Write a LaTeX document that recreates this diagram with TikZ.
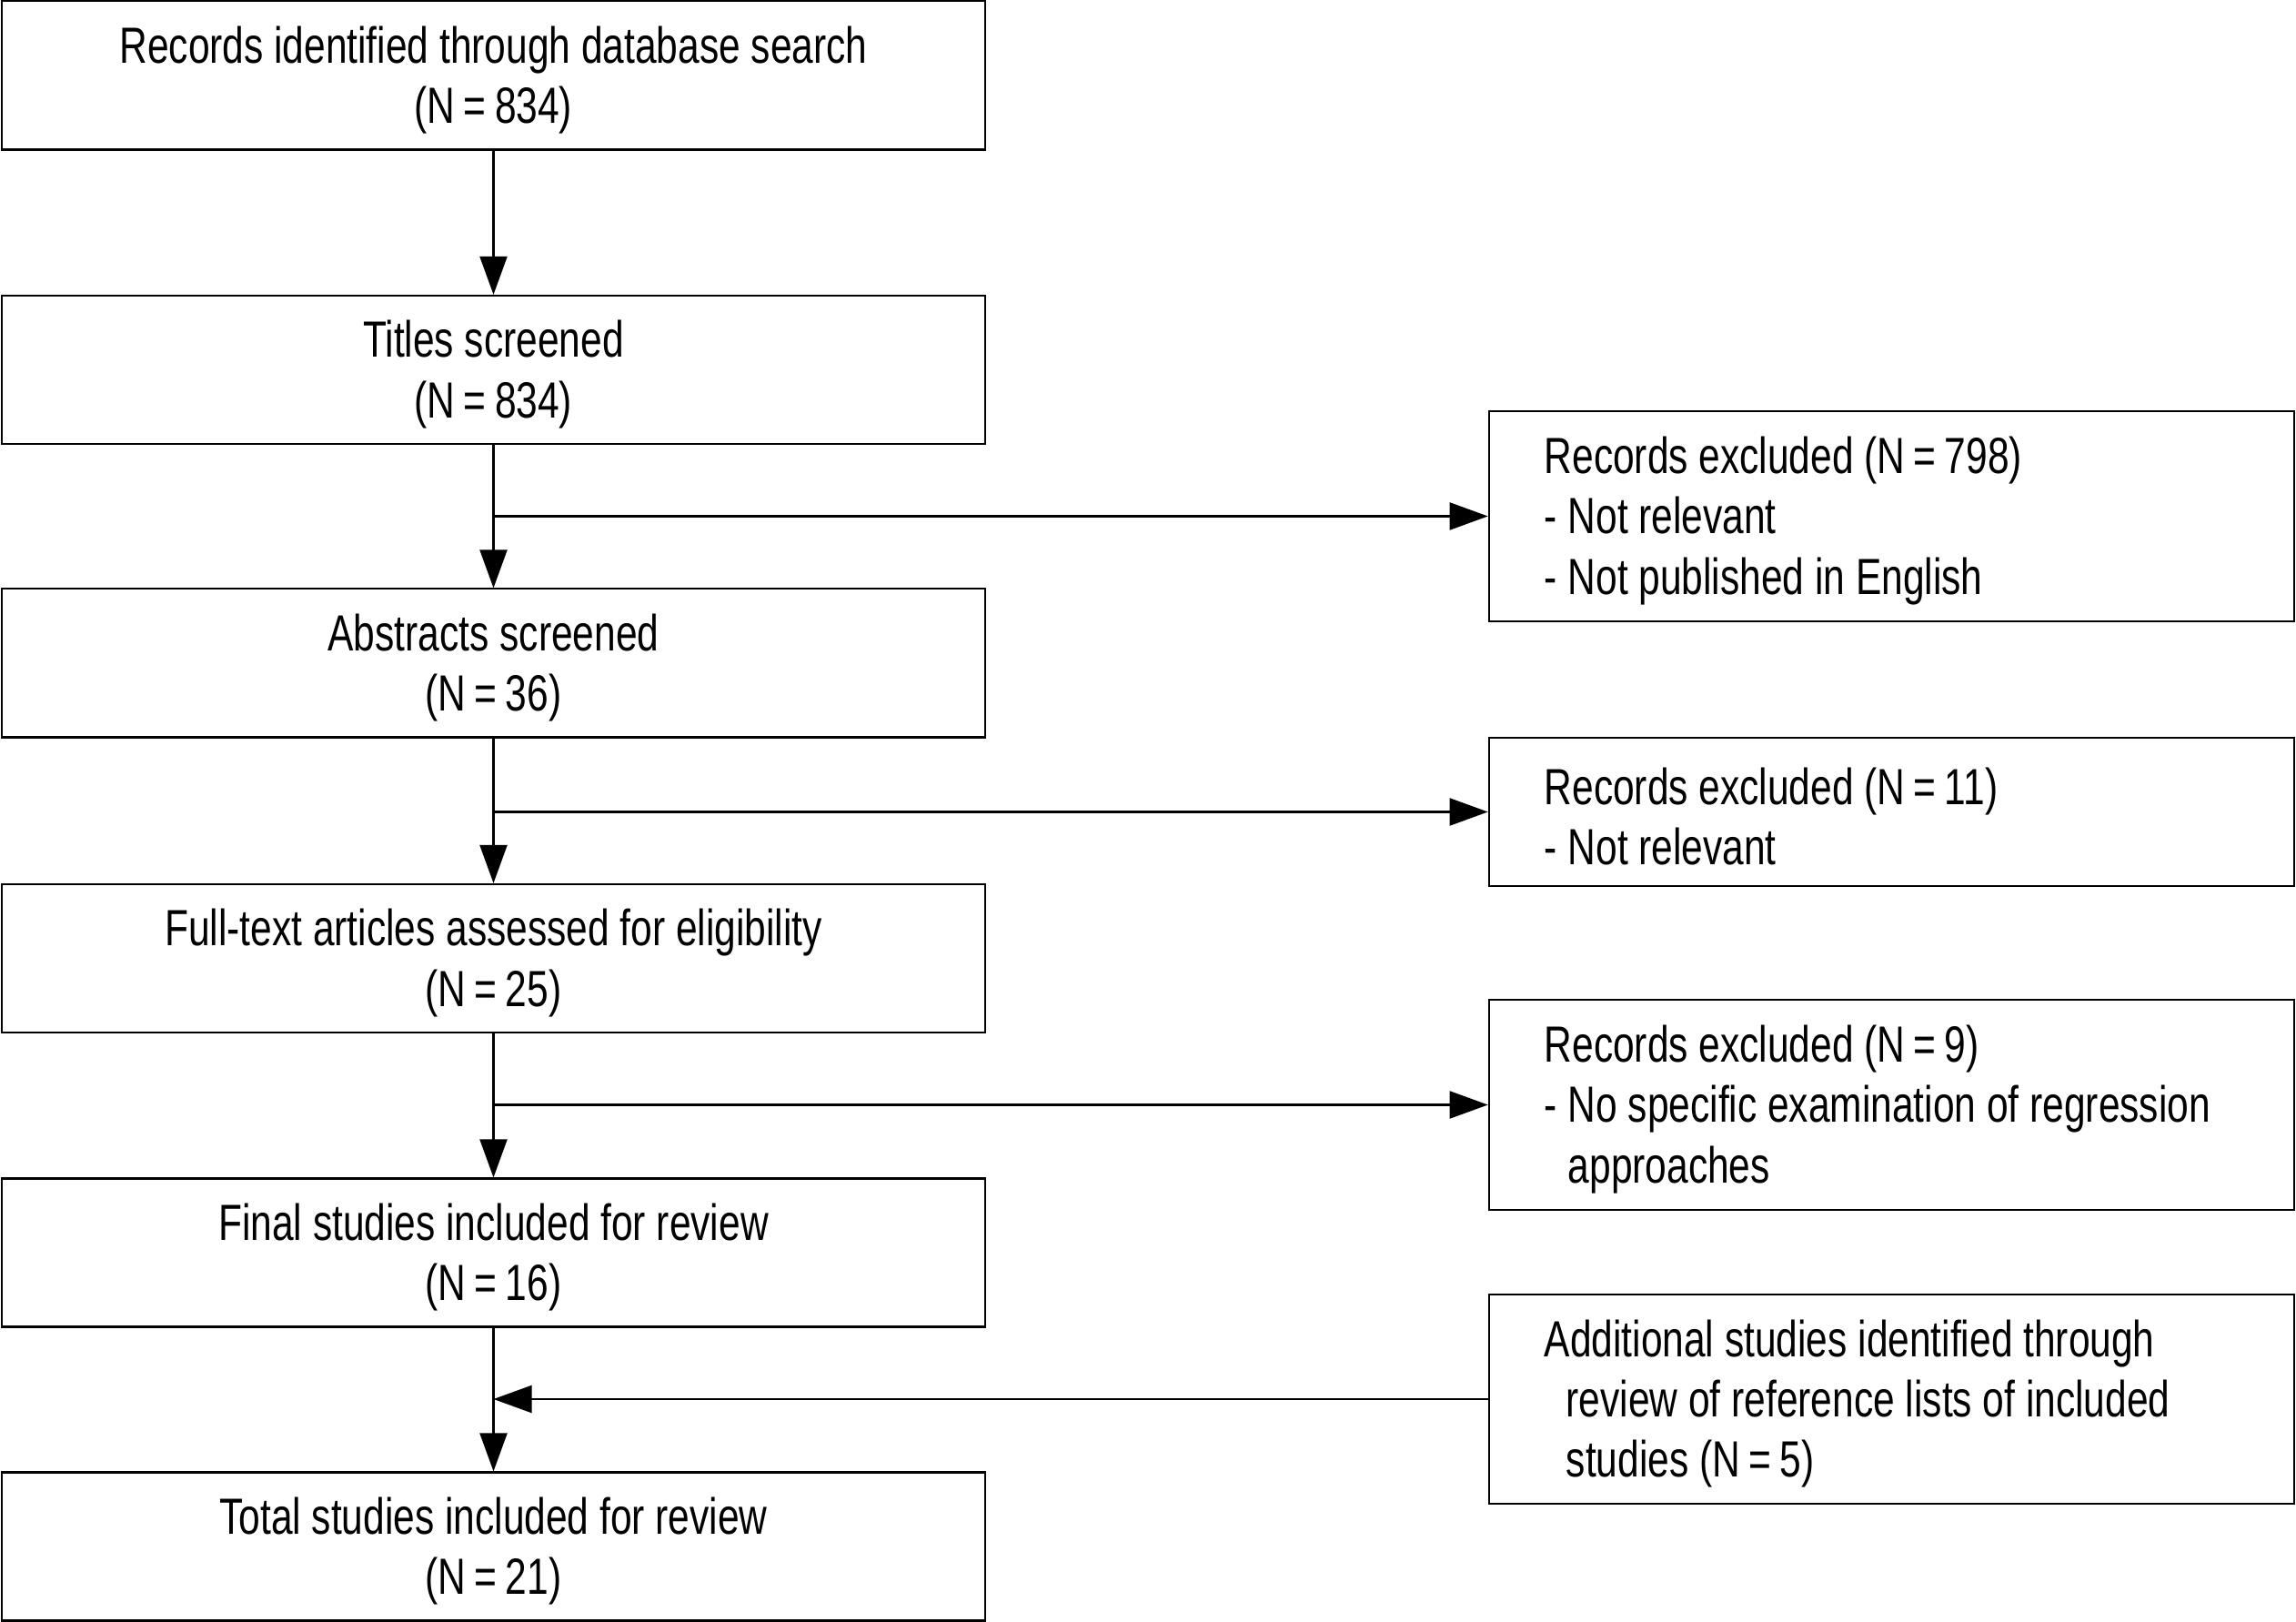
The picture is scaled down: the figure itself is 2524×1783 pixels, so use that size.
\documentclass[tikz,border=0pt]{standalone}
\usepackage{fontspec}
\IfFontExistsTF{Liberation Sans Narrow}
  {\setmainfont{Liberation Sans Narrow}[FakeStretch=0.92]}
  {\setmainfont{Liberation Sans}[FakeStretch=0.76]}
\usetikzlibrary{arrows.meta}
\begin{document}
\begin{tikzpicture}[x=0.01cm,y=-0.01cm,
  every node/.style={font=\fontsize{15.9}{18.8}\selectfont},
  mainbox/.style={draw, line width=0.6pt, rectangle, minimum width=10.81cm, minimum height=1.63cm, inner sep=0pt},
  maintext/.style={align=center, inner sep=0pt, yshift=-0.05cm},
  sidebox/.style={draw, line width=0.6pt, rectangle, minimum width=8.85cm, inner sep=0pt},
  sidetext/.style={text width=8.85cm-1.22cm, align=flush left, inner sep=0pt, yshift=-0.05cm},
  flow/.style={line width=0.6pt, -{Triangle[length=0.42cm,width=0.3cm]}}
]
\useasboundingbox (0,0) rectangle (2524,1783);
\node[mainbox, label={[maintext]center:{Records identified through database search\\(N\,=\,834)}}] (b1) at (542.5,83) {};
\node[mainbox, label={[maintext]center:{Titles screened\\(N\,=\,834)}}] (b2) at (542.5,406.5) {};
\node[mainbox, label={[maintext]center:{Abstracts screened\\(N\,=\,36)}}] (b3) at (542.5,729) {};
\node[mainbox, label={[maintext]center:{Full-text articles assessed for eligibility\\(N\,=\,25)}}] (b4) at (542.5,1053.5) {};
\node[mainbox, label={[maintext]center:{Final studies included for review\\(N\,=\,16)}}] (b5) at (542.5,1377) {};
\node[mainbox, label={[maintext]center:{Total studies included for review\\(N\,=\,21)}}] (b6) at (542.5,1700) {};

\node[sidebox, minimum height=2.31cm, label={[sidetext]center:{Records excluded (N\,=\,798)\\- Not relevant\\- Not published in English}}] (r1) at (2079.5,567.5) {};
\node[sidebox, minimum height=1.63cm, label={[sidetext]center:{Records excluded (N\,=\,11)\\- Not relevant}}] (r2) at (2079.5,892.5) {};
\node[sidebox, minimum height=2.31cm, label={[sidetext]center:{Records excluded (N\,=\,9)\\- No specific examination of regression\\\phantom{- }approaches}}] (r3) at (2079.5,1214.5) {};
\node[sidebox, minimum height=2.30cm, label={[sidetext]center:{Additional studies identified through\\\hspace{0.24cm}review of reference lists of included\\\hspace{0.24cm}studies (N\,=\,5)}}] (r4) at (2079.5,1538) {};

\draw[flow] (b1) -- (b2);
\draw[flow] (b2) -- (b3);
\draw[flow] (b3) -- (b4);
\draw[flow] (b4) -- (b5);
\draw[flow] (b5) -- (b6);

\coordinate (j1) at (b2.south |- r1.west);
\coordinate (j2) at (b3.south |- r2.west);
\coordinate (j3) at (b4.south |- r3.west);
\coordinate (j4) at (b5.south |- r4.west);
\draw[flow] (j1) -- (r1.west);
\draw[flow] (j2) -- (r2.west);
\draw[flow] (j3) -- (r3.west);
\draw[flow] (r4.west) -- (j4);
\end{tikzpicture}
\end{document}
